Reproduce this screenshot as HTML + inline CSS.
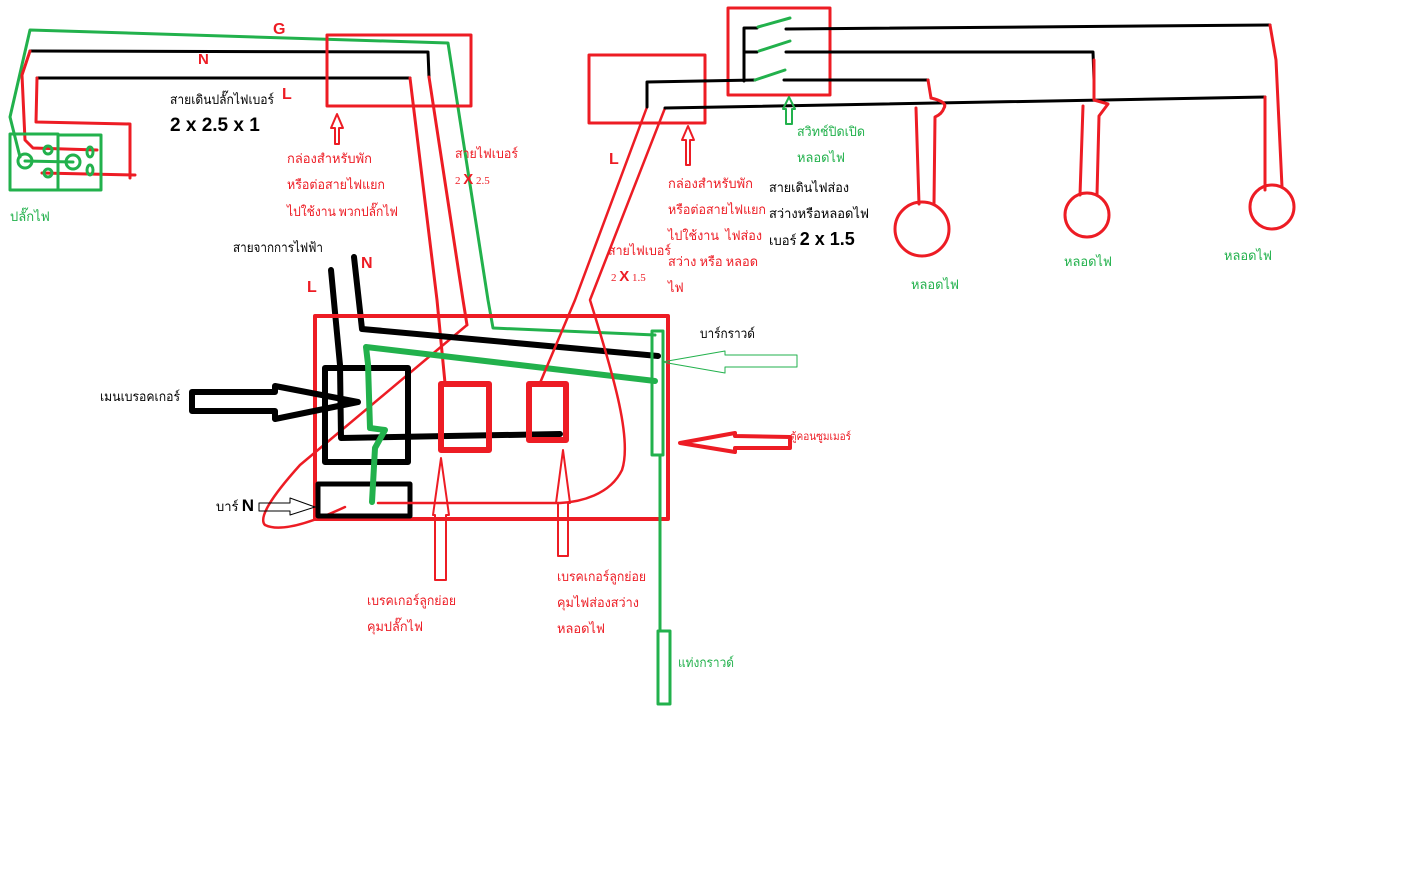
<!DOCTYPE html>
<html><head><meta charset="utf-8"><style>
html,body{margin:0;padding:0;background:#fff;}
svg{display:block}
text{font-family:"Liberation Serif","Noto Serif CJK SC","Noto Sans CJK SC",serif;font-size:13px}
.r{fill:#ed1c24}.g{fill:#22b14c}.k{fill:#000}
.b{font-family:"Liberation Sans",sans-serif;font-weight:bold}
</style></head><body>
<svg width="1404" height="881" viewBox="0 0 1404 881" xmlns="http://www.w3.org/2000/svg" fill="none" stroke-linejoin="round" stroke-linecap="round">
<polyline points="20,157 10,117 30,30 448,43 488,300 493,328 655,335" stroke="#22b14c" stroke-width="3"/>
<polyline points="30,51 428,52 429,77" stroke="#000" stroke-width="3"/>
<polyline points="37,78 410,78" stroke="#000" stroke-width="3"/>
<polyline points="30,51 22,75 25,140 33,148 97,150" stroke="#ed1c24" stroke-width="3"/>
<polyline points="37,78 36,122 130,124 130,178" stroke="#ed1c24" stroke-width="3"/>
<polyline points="42,173 135,175" stroke="#ed1c24" stroke-width="3"/>
<rect x="10" y="134" width="48" height="56" stroke="#22b14c" stroke-width="3"/>
<rect x="58" y="135" width="43" height="55" stroke="#22b14c" stroke-width="3"/>
<circle cx="25" cy="161" r="7" stroke="#22b14c" stroke-width="3"/>
<circle cx="73" cy="162" r="7" stroke="#22b14c" stroke-width="3"/>
<line x1="25" y1="161" x2="73" y2="162" stroke="#22b14c" stroke-width="3"/>
<ellipse cx="48" cy="150" rx="4" ry="4" stroke="#22b14c" stroke-width="3"/>
<ellipse cx="48" cy="173" rx="4" ry="4" stroke="#22b14c" stroke-width="3"/>
<ellipse cx="90" cy="152" rx="3" ry="5" stroke="#22b14c" stroke-width="3"/>
<ellipse cx="90" cy="170" rx="3" ry="5" stroke="#22b14c" stroke-width="3"/>
<rect x="327" y="35" width="144" height="71" stroke="#ed1c24" stroke-width="3"/>
<polygon points="337,114 331,128 335,128 335,144 339,144 339,128 343,128" stroke="#ed1c24" stroke-width="2"/>
<polyline points="410,78 437,300 445,383" stroke="#ed1c24" stroke-width="3"/>
<polyline points="429,77 463,300 467,325" stroke="#ed1c24" stroke-width="3"/>
<path d="M467,325 L300,465 Q255,515 265,525 Q285,535 345,507" stroke="#ed1c24" stroke-width="2.5"/>
<text x="273" y="34" class="r b" style="font-size:16px">G</text>
<text x="198" y="64" class="r b" style="font-size:15px">N</text>
<text x="282" y="99" class="r b" style="font-size:16px">L</text>
<text x="170" y="104" class="k" textLength="104" lengthAdjust="spacingAndGlyphs">สายเดินปลั๊กไฟเบอร์</text>
<text x="170" y="131" class="k b" style="font-size:19px">2 x 2.5 x 1</text>
<text x="287" y="163" class="r" textLength="85" lengthAdjust="spacingAndGlyphs">กล่องสำหรับพัก</text>
<text x="287" y="189" class="r" textLength="98" lengthAdjust="spacingAndGlyphs">หรือต่อสายไฟแยก</text>
<text x="287" y="216" class="r" textLength="111" lengthAdjust="spacingAndGlyphs">ไปใช้งาน พวกปลั๊กไฟ</text>
<text x="455" y="158" class="r" textLength="63" lengthAdjust="spacingAndGlyphs">สายไฟเบอร์</text>
<text x="455" y="184" class="r" style="font-size:11px">2 <tspan class="b" style="font-size:15px">X</tspan> 2.5</text>
<text x="10" y="221" class="g">ปลั๊กไฟ</text>
<text x="233" y="252" class="k" textLength="90" lengthAdjust="spacingAndGlyphs">สายจากการไฟฟ้า</text>
<text x="307" y="292" class="r b" style="font-size:16px">L</text>
<text x="361" y="268" class="r b" style="font-size:16px">N</text>
<polyline points="331,270 340,365" stroke="#000" stroke-width="6"/>
<polyline points="354,257 362,329 658,356" stroke="#000" stroke-width="6"/>
<rect x="315" y="316" width="353" height="203" stroke="#ed1c24" stroke-width="4"/>
<rect x="325" y="368" width="83" height="94" stroke="#000" stroke-width="6"/>
<rect x="318" y="484" width="92" height="32" stroke="#000" stroke-width="5"/>
<polyline points="340,365 341,438 560,434" stroke="#000" stroke-width="6"/>
<polyline points="655,381 366,347 368,364 370,428 385,430 375,448 372,502" stroke="#22b14c" stroke-width="6"/>
<rect x="652" y="331" width="11" height="124" stroke="#22b14c" stroke-width="3"/>
<line x1="660" y1="455" x2="660" y2="630" stroke="#22b14c" stroke-width="3"/>
<rect x="658" y="631" width="12" height="73" stroke="#22b14c" stroke-width="3"/>
<rect x="441" y="384" width="48" height="66" stroke="#ed1c24" stroke-width="6"/>
<rect x="529" y="384" width="37" height="56" stroke="#ed1c24" stroke-width="6"/>
<polyline points="647,107 575,300 540,383" stroke="#ed1c24" stroke-width="2.5"/>
<path d="M665,108 L590,300 C615,380 632,440 622,470 C610,495 580,502 560,503 L378,503" stroke="#ed1c24" stroke-width="2.5"/>
<polygon points="192,392 275,392 275,386 358,402 275,419 275,411 192,411" stroke="#000" stroke-width="6"/>
<text x="100" y="401" class="k" textLength="80" lengthAdjust="spacingAndGlyphs">เมนเบรอคเกอร์</text>
<polygon points="259,503 290,503 290,498 315,507 290,515 290,511 259,511" stroke="#000" stroke-width="1"/>
<text x="216" y="511" class="k" style="font-size:13px">บาร์ <tspan class="b" style="font-size:17px">N</tspan></text>
<polygon points="797,355 725,355 725,351 662,362 725,373 725,367 797,367" stroke="#22b14c" stroke-width="1"/>
<text x="700" y="338" class="k" textLength="55" lengthAdjust="spacingAndGlyphs">บาร์กราวด์</text>
<polygon points="790,437 735,436 735,433 680,443 735,452 735,448 790,448" stroke="#ed1c24" stroke-width="4"/>
<text x="790" y="440" class="r" style="font-size:11px" textLength="61" lengthAdjust="spacingAndGlyphs">ตู้คอนซูมเมอร์</text>
<polygon points="441,458 433,515 435,515 435,580 446,580 446,515 449,515" stroke="#ed1c24" stroke-width="2"/>
<polygon points="563,450 556,503 558,503 558,556 568,556 568,503 570,503" stroke="#ed1c24" stroke-width="2"/>
<text x="367" y="605" class="r" textLength="89" lengthAdjust="spacingAndGlyphs">เบรคเกอร์ลูกย่อย</text>
<text x="367" y="631" class="r" textLength="56" lengthAdjust="spacingAndGlyphs">คุมปลั๊กไฟ</text>
<text x="557" y="581" class="r" textLength="89" lengthAdjust="spacingAndGlyphs">เบรคเกอร์ลูกย่อย</text>
<text x="557" y="607" class="r" textLength="82" lengthAdjust="spacingAndGlyphs">คุมไฟส่องสว่าง</text>
<text x="557" y="633" class="r" textLength="48" lengthAdjust="spacingAndGlyphs">หลอดไฟ</text>
<text x="678" y="667" class="g" textLength="56" lengthAdjust="spacingAndGlyphs">แท่งกราวด์</text>
<rect x="589" y="55" width="116" height="68" stroke="#ed1c24" stroke-width="3"/>
<rect x="728" y="8" width="102" height="87" stroke="#ed1c24" stroke-width="3"/>
<polyline points="647,107 647,82 755,80" stroke="#000" stroke-width="3"/>
<polyline points="744,81 744,28 757,28" stroke="#000" stroke-width="3"/>
<line x1="744" y1="52" x2="757" y2="52" stroke="#000" stroke-width="3"/>
<polyline points="665,108 1265,97" stroke="#000" stroke-width="3"/>
<line x1="758" y1="27" x2="790" y2="18" stroke="#22b14c" stroke-width="3"/>
<line x1="759" y1="51" x2="790" y2="41" stroke="#22b14c" stroke-width="3"/>
<line x1="755" y1="80" x2="785" y2="70" stroke="#22b14c" stroke-width="3"/>
<polyline points="786,29 1270,25" stroke="#000" stroke-width="3"/>
<polyline points="786,52 1093,52 1094,80" stroke="#000" stroke-width="3"/>
<polyline points="784,80 928,80" stroke="#000" stroke-width="3"/>
<polyline points="928,80 931,98" stroke="#ed1c24" stroke-width="3"/>
<path d="M931,98 Q948,102 944,108 Q942,114 935,117 L934,204" stroke="#ed1c24" stroke-width="3"/>
<polyline points="916,108 919,204" stroke="#ed1c24" stroke-width="3"/>
<circle cx="922" cy="229" r="27" stroke="#ed1c24" stroke-width="3"/>
<path d="M1094,60 L1094,100 L1108,104 L1099,116 L1097,195" stroke="#ed1c24" stroke-width="3"/>
<polyline points="1083,106 1080,195" stroke="#ed1c24" stroke-width="3"/>
<circle cx="1087" cy="215" r="22" stroke="#ed1c24" stroke-width="3"/>
<polyline points="1270,25 1276,60 1282,187" stroke="#ed1c24" stroke-width="3"/>
<polyline points="1265,97 1265,190" stroke="#ed1c24" stroke-width="3"/>
<circle cx="1272" cy="207" r="22" stroke="#ed1c24" stroke-width="3"/>
<polygon points="688,126 682,140 686,140 686,165 690,165 690,140 694,140" stroke="#ed1c24" stroke-width="2"/>
<polygon points="789,97 783,109 786,109 786,124 792,124 792,109 795,109" stroke="#22b14c" stroke-width="2"/>
<text x="609" y="164" class="r b" style="font-size:16px">L</text>
<text x="797" y="136" class="g" textLength="68" lengthAdjust="spacingAndGlyphs">สวิทช์ปิดเปิด</text>
<text x="797" y="162" class="g" textLength="48" lengthAdjust="spacingAndGlyphs">หลอดไฟ</text>
<text x="668" y="188" class="r" textLength="85" lengthAdjust="spacingAndGlyphs">กล่องสำหรับพัก</text>
<text x="668" y="214" class="r" textLength="98" lengthAdjust="spacingAndGlyphs">หรือต่อสายไฟแยก</text>
<text x="668" y="240" class="r" textLength="94" lengthAdjust="spacingAndGlyphs">ไปใช้งาน&#160; ไฟส่อง</text>
<text x="668" y="266" class="r" textLength="90" lengthAdjust="spacingAndGlyphs">สว่าง หรือ หลอด</text>
<text x="668" y="292" class="r">ไฟ</text>
<text x="769" y="192" class="k" textLength="80" lengthAdjust="spacingAndGlyphs">สายเดินไฟส่อง</text>
<text x="769" y="218" class="k" textLength="100" lengthAdjust="spacingAndGlyphs">สว่างหรือหลอดไฟ</text>
<text x="769" y="245" class="k">เบอร์ <tspan class="b" style="font-size:18px">2 x 1.5</tspan></text>
<text x="608" y="255" class="r" textLength="63" lengthAdjust="spacingAndGlyphs">สายไฟเบอร์</text>
<text x="611" y="281" class="r" style="font-size:11px">2 <tspan class="b" style="font-size:15px">X</tspan> 1.5</text>
<text x="911" y="289" class="g" textLength="48" lengthAdjust="spacingAndGlyphs">หลอดไฟ</text>
<text x="1064" y="266" class="g" textLength="48" lengthAdjust="spacingAndGlyphs">หลอดไฟ</text>
<text x="1224" y="260" class="g" textLength="48" lengthAdjust="spacingAndGlyphs">หลอดไฟ</text>
</svg>
</body></html>
